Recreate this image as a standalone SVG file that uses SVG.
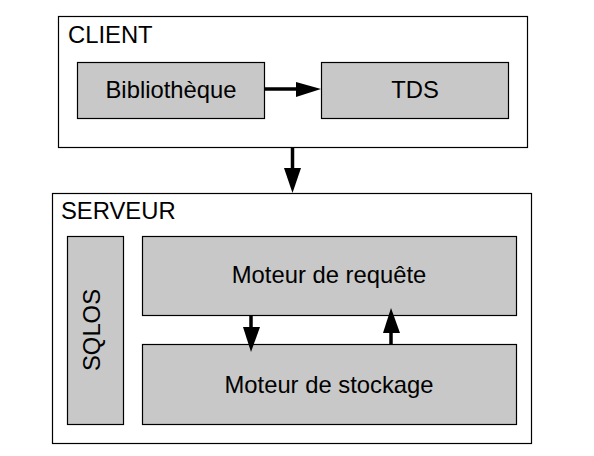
<svg xmlns="http://www.w3.org/2000/svg" width="594" height="456" viewBox="0 0 594 456">
<style>
.frame{fill:#ffffff;stroke:#000000;stroke-width:1.2}
.box{fill:#c8c8c8;stroke:#000000;stroke-width:1.2}
.t{font-family:"Liberation Sans",Arial,sans-serif;font-size:23.8px;fill:#000000}
.c{text-anchor:middle}
.ln{stroke:#000000;stroke-width:3.5;fill:none}
.hd{fill:#000000;stroke:none}
</style>
<rect x="0" y="0" width="594" height="456" fill="#ffffff"/>
<g id="client">
<rect class="frame" x="58.5" y="16.5" width="469" height="131"/>
<text class="t" x="68" y="43">CLIENT</text>
</g>
<g id="bibliotheque">
<rect class="box" x="77.5" y="62.5" width="187" height="56"/>
<text class="t c" x="171" y="98">Bibliothèque</text>
</g>
<g id="tds">
<rect class="box" x="321.5" y="62.5" width="187" height="56"/>
<text class="t c" x="415" y="98">TDS</text>
</g>
<g id="serveur">
<rect class="frame" x="52.5" y="193.5" width="479" height="250"/>
<text class="t" x="61" y="219">SERVEUR</text>
</g>
<g id="sqlos">
<rect class="box" x="67.5" y="236.5" width="56" height="188"/>
<text class="t c" transform="translate(100,330) rotate(-90)" x="0" y="0">SQLOS</text>
</g>
<g id="moteur-requete">
<rect class="box" x="142.5" y="236.5" width="374" height="79"/>
<text class="t c" x="329" y="283">Moteur de requête</text>
</g>
<g id="moteur-stockage">
<rect class="box" x="142.5" y="344.5" width="374" height="80"/>
<text class="t c" x="329" y="393">Moteur de stockage</text>
</g>
<g id="connectors">
<line class="ln" x1="265" y1="89" x2="298" y2="89"/>
<polygon class="hd" points="296,82 321,89 296,97"/>
<line class="ln" x1="292.5" y1="148" x2="292.5" y2="170"/>
<polygon class="hd" points="284,168 301,168 292.5,193"/>
<line class="ln" x1="251" y1="316" x2="251" y2="329"/>
<polygon class="hd" points="243,327 260,327 251,352"/>
<line class="ln" x1="391" y1="344" x2="391" y2="330"/>
<polygon class="hd" points="383,333 400,333 391,308"/>
</g>
</svg>
